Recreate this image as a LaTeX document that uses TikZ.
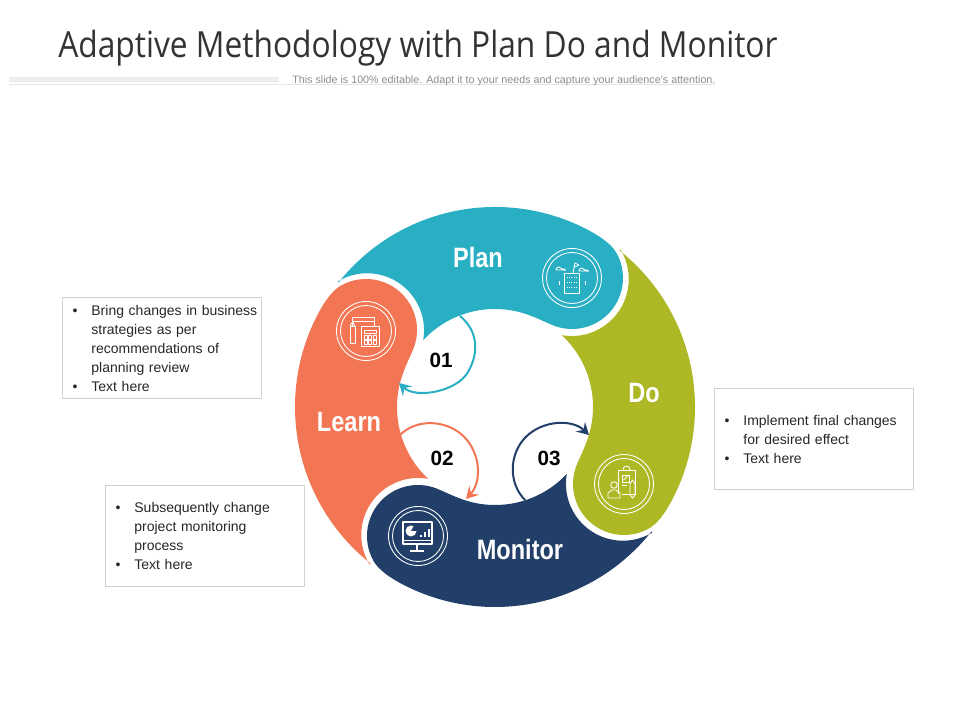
\documentclass[tikz,border=0pt]{standalone}
\usepackage{fontspec}
\usepackage{tikz}
\usetikzlibrary{arrows.meta}
\setmainfont{Liberation Sans}
\newfontfamily\titlefont[FakeStretch=0.881]{Open Sans}
\newfontfamily\ringfont[FakeStretch=0.84]{Liberation Sans Bold}
\definecolor{planteal}{RGB}{41,175,196}
\definecolor{dogreen}{RGB}{173,184,36}
\definecolor{monitorblue}{RGB}{33,63,104}
\definecolor{learnorange}{RGB}{242,118,83}
\tikzset{
    ringlabel/.style={white, font=\ringfont\fontsize{21}{24}\selectfont},
    steplabel/.style={black, font=\fontsize{15.5}{18}\selectfont\bfseries},
    infobox/.style={draw=black!18, line width=0.6pt, rectangle, anchor=north west, inner xsep=2pt, inner ysep=0pt,
        minimum height=76pt, text width=145.4pt, align=left, font=\fontsize{10.5}{14.25}\selectfont, text=black!85},
    iconline/.style={line width=0.65pt, line join=round},
    looparrow/.style={line width=1.5pt, -{Stealth[length=9pt,width=10pt,inset=3.5pt]}},
}
\newcommand{\bulitem}[1]{\hspace*{5.75pt}\makebox[14pt][l]{\textbullet}#1}
\newcommand{\contitem}[1]{\hspace*{19.75pt}#1}
\begin{document}
\begin{tikzpicture}[x=0.75pt, y=0.75pt]
    \useasboundingbox (0, 0) rectangle (960, 720);

    % header
    \node[anchor=base west, inner sep=0pt, text=black!80, font=\titlefont\fontsize{27}{30}\selectfont] (title) at (58, 662) {Adaptive Methodology with Plan Do and Monitor};
    \fill[black!7] (9, 638) rectangle (279, 643);
    \draw[black!10, line width=0.6pt] (9, 636) -- (715, 636);
    \node[anchor=base west, inner sep=0pt, text=black!45, font=\fontsize{8.05}{10}\selectfont] (subtitle) at (292, 636.5) {This slide is 100\% editable. Adapt it to your needs and capture your audience's attention.};

    % ring pieces
    \foreach \col/\ang in {planteal/0, learnorange/90, monitorblue/180, dogreen/270} {
        \fill[\col, shift={(495, 313)}, rotate=\ang]
            (141.5:200) arc (141.5:62:200)
            .. controls (106, 170) and (116, 163) .. (121.2, 154.5)
            arc (30:-115:51)
            .. controls (48, 86) and (42, 89) .. (35, 91.5)
            arc (69:137:98)
            arc (-10:121:57) -- cycle;
    }

    \node[ringlabel] (plan) at (478, 462) {Plan};
    \node[ringlabel] (do) at (644, 327) {Do};
    \node[ringlabel] (monitor) at (520, 171) {Monitor};
    \node[ringlabel] (learn) at (349, 298) {Learn};

    % plan icon
    \begin{scope}[shift={(572, 442)}, draw=white, iconline]
        \draw (0, 0) circle (29.5);
        \draw (0, 0) circle (25.5);
        \draw (-8, 5) rectangle (7, -15);
        \foreach \y in {1, -4, -9} {
            \draw[densely dotted] (-5, \y) -- (4, \y);
        }
        \draw (1, 5) -- (3, 15) -- (7, 13) -- (3, 11);
        \draw (-16, 8) arc (180:20:3) arc (120:20:2.5) -- (-8, 8) -- cycle;
        \draw (7, 7) arc (180:20:3) arc (120:20:2.5) -- (15, 7) -- cycle;
        \draw (-13, -3) -- (-13, -7) (13, -3) -- (13, -7);
    \end{scope}

    % learn icon
    \begin{scope}[shift={(366, 389)}, draw=white, iconline]
        \draw (0, 0) circle (29.5);
        \draw (0, 0) circle (25.5);
        \draw (-14, 5) -- (-14, 14) -- (8, 14) -- (8, 5);
        \draw (-14, 10) -- (8, 10);
        \draw (-16, 5) rectangle (-11, -12);
        \draw (-16, 5) -- (-13.5, 9) -- (-11, 5);
        \draw (-5, 5) rectangle (13, -15);
        \draw (-2, 1) rectangle (10, -2);
        \foreach \x in {-2, 2.5, 7} {
            \foreach \y in {-8, -13} {
                \draw (\x, \y) rectangle +(3, 3.5);
            }
        }
    \end{scope}

    % monitor icon
    \begin{scope}[shift={(418, 184)}, draw=white, iconline]
        \draw (0, 0) circle (29.5);
        \draw (0, 0) circle (25.5);
        \draw[line width=1.1pt] (-15, 14) rectangle (14, -8);
        \draw (-15, -4) -- (14, -4);
        \draw[line width=1.1pt] (-1, -8) -- (-1, -15) (-8, -15) -- (6, -15);
        \fill[white] (-7, 5) circle (5.5);
        \fill[monitorblue] (-7, 5) -- (-1, 5) arc (0:60:6) -- cycle;
        \fill[white] (2, -1) rectangle (4, 1);
        \fill[white] (6, -1) rectangle (8, 4);
        \fill[white] (10, -1) rectangle (12, 7);
    \end{scope}

    % do icon
    \begin{scope}[shift={(624, 236)}, draw=white, iconline]
        \draw (0, 0) circle (29.5);
        \draw (0, 0) circle (25.5);
        \draw (-6, -10) -- (-6, 14) -- (11, 14) -- (11, -10) -- (-2, -10);
        \draw (-1, 14) -- (0, 17) -- (3, 18) -- (5, 17) -- (6, 14);
        \draw (-2, 9) rectangle (5, 2);
        \draw (-1, 4) -- (1, 5) -- (4, 9);
        \draw (-2, -1) -- (3, -1);
        \draw (-10, -1) circle (3.3);
        \draw (-16, -14) -- (-16, -9) -- (-12, -6) -- (-8, -6) -- (-4, -9) -- (-4, -14) -- cycle;
        \draw (6, 0) -- (6, -11) -- (8.5, -14) -- (11, -11) -- (11, 0) -- (8.5, 4) -- cycle;
    \end{scope}

    % step arrows
    \coordinate (onestart) at (460, 404);
    \coordinate (onemid) at (468, 348);
    \coordinate (oneend) at (399, 337);
    \coordinate (twostart) at (400, 285);
    \coordinate (twomid) at (463.6, 283.7);
    \coordinate (twoend) at (466, 221);
    \coordinate (threestart) at (525, 220);
    \coordinate (threemid) at (525.6, 282.8);
    \coordinate (threeend) at (589, 285);
    \draw[looparrow, planteal] (onestart) .. controls (477.7, 389.3) and (479.5, 368) .. (onemid)
        .. controls (456.5, 328) and (415.6, 321.1) .. (oneend);
    \draw[looparrow, learnorange] (twostart) .. controls (416.8, 301.8) and (446.6, 300.2) .. (twomid)
        .. controls (480.6, 267.2) and (482.1, 238.3) .. (twoend);
    \draw[looparrow, monitorblue] (threestart) .. controls (508.2, 236.8) and (509, 265.9) .. (threemid)
        .. controls (542.2, 299.7) and (571.9, 301.4) .. (threeend);

    \node[steplabel] (stepone) at (441, 360) {01};
    \node[steplabel] (steptwo) at (442, 262) {02};
    \node[steplabel] (stepthree) at (549, 262) {03};

    % text boxes
    \node[infobox] (learnbox) at (62, 423) {\bulitem{Bring changes in business}\\ \contitem{strategies as per}\\ \contitem{recommendations of}\\ \contitem{planning review}\\ \bulitem{Text here}};
    \node[infobox] (monitorbox) at (105, 235) {\bulitem{Subsequently change}\\ \contitem{project monitoring}\\ \contitem{process}\\ \bulitem{Text here}};
    \node[infobox] (dobox) at (714, 332) {\bulitem{Implement final changes}\\ \contitem{for desired effect}\\ \bulitem{Text here}};
\end{tikzpicture}
\end{document}
